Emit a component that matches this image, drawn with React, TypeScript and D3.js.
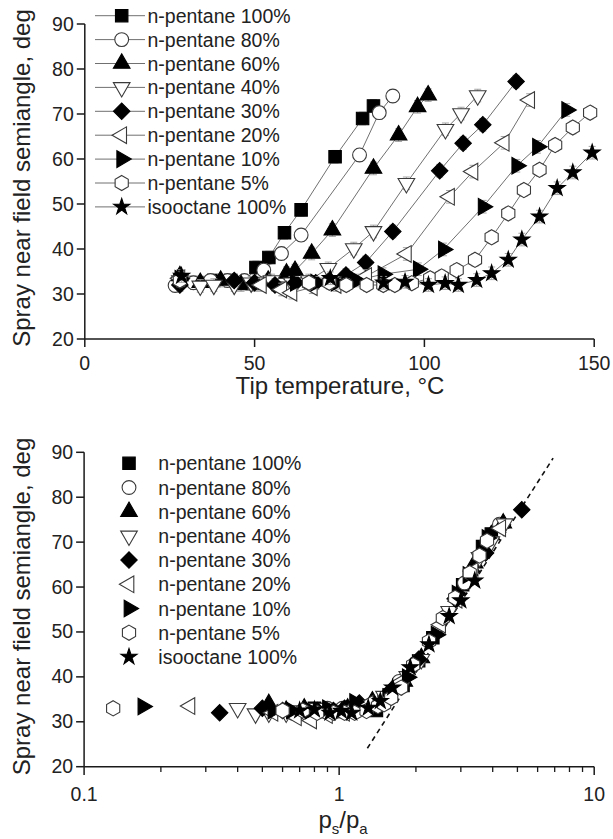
import React from "react";
import * as d3 from "d3";

// legend labels, in drawing order
const seriesNames = [
  "n-pentane 100%",
  "n-pentane 80%",
  "n-pentane 60%",
  "n-pentane 40%",
  "n-pentane 30%",
  "n-pentane 20%",
  "n-pentane 10%",
  "n-pentane 5%",
  "isooctane 100%",
];

// tip temperature (°C), spray semiangle (deg) and ps/pa for each mixture
const tempP100 = [28, 33, 38, 43, 47, 50.4, 54.2, 58.8, 63.7, 73.7, 81.8, 85.0];
const angleP100 = [33, 32.5, 33, 33, 32.5, 35.9, 38.1, 43.6, 48.7, 60.5, 69.0, 71.8];
const ratioP100 = [0.8, 0.93, 1.08, 1.25, 1.4, 1.58, 1.78, 2.05, 2.33, 3.05, 3.65, 3.95];

const tempP80 = [26.6, 32, 37, 42, 47, 52.7, 57.9, 63.7, 80.9, 86.7, 90.7];
const angleP80 = [31.9, 32.5, 33, 33, 33, 35.3, 39.0, 43.1, 60.9, 70.3, 74.0];
const ratioP80 = [0.66, 0.77, 0.9, 1.03, 1.18, 1.5, 1.72, 2.0, 3.1, 3.8, 4.25];

const tempP60 = [28, 34, 40, 46, 50, 54, 59.4, 61.9, 66.8, 72.9, 85.0, 92.4, 98.0, 101.1];
const angleP60 = [34, 32.5, 33, 32, 32, 33, 34.6, 35.2, 39.0, 44.2, 57.9, 65.3, 71.6, 74.2];
const ratioP60 = [0.53, 0.62, 0.73, 0.85, 0.95, 1.08, 1.35, 1.5, 1.8, 2.1, 2.88, 3.4, 3.95, 4.4];

const tempP40 = [28, 34, 38, 44, 49, 55, 61, 66, 71.7, 79.2, 85.0, 94.7, 106.2, 110.8, 115.7];
const angleP40 = [33, 31.8, 32, 32, 32.5, 33, 32.5, 33, 35.7, 40.1, 43.9, 54.6, 66.6, 70.1, 74.1];
const ratioP40 = [0.4, 0.47, 0.53, 0.62, 0.7, 0.82, 0.96, 1.1, 1.5, 1.85, 2.1, 2.7, 3.55, 3.95, 4.45];

const tempP30 = [28, 44, 50, 56, 62, 68, 72, 76.9, 82.7, 90.7, 104.5, 111.4, 117.2, 127.0];
const angleP30 = [32, 33, 32.5, 32, 32.5, 32.5, 33, 34.2, 37.0, 43.9, 57.4, 63.5, 67.6, 77.2];
const ratioP30 = [0.34, 0.5, 0.6, 0.7, 0.82, 0.95, 1.05, 1.2, 1.6, 2.05, 2.85, 3.3, 3.75, 5.2];

const tempP20 = [28, 52, 58, 61, 67, 74, 83, 94.7, 107.4, 114.3, 123.5, 131];
const angleP20 = [33.5, 32, 31, 30.3, 31.5, 32, 34.0, 38.9, 51.6, 57.2, 63.6, 73.1];
const ratioP20 = [0.26, 0.55, 0.68, 0.78, 0.9, 1.05, 1.3, 1.75, 2.5, 2.9, 3.35, 4.3];

const tempP10 = [28, 62, 68, 74, 80, 87.8, 98.2, 105.6, 117.3, 127.2, 133.3, 141.9];
const angleP10 = [33.4, 32.5, 32.5, 32.5, 33, 34.4, 35.5, 39.9, 49.4, 58.5, 62.7, 70.9];
const ratioP10 = [0.17, 0.55, 0.65, 0.77, 0.9, 1.15, 1.55, 1.85, 2.4, 2.9, 3.2, 3.8];

const tempP5 = [28, 66, 72, 77, 83, 87.9, 91.3, 96.3, 101.7, 105.1, 109.5, 114.9, 119.8, 124.7, 129.3, 133.9, 138.5, 143.7, 148.8];
const angleP5 = [33, 32.5, 32.5, 32, 32, 32, 32, 32.4, 33.5, 33.9, 35.3, 37.6, 42.6, 47.9, 53.1, 57.6, 63.1, 67.0, 70.3];
const ratioP5 = [0.13, 0.6, 0.72, 0.82, 0.95, 1.05, 1.15, 1.28, 1.42, 1.5, 1.6, 1.75, 1.95, 2.25, 2.55, 2.85, 3.25, 3.55, 3.8];

const tempIso = [28.5, 72.3, 88, 94.3, 101.2, 106.1, 110, 115.4, 119.8, 124.7, 128.7, 133.9, 139.1, 143.7, 149.4];
const angleIso = [34, 33.5, 32.5, 32.7, 32, 32.4, 32, 33.1, 34.6, 37.6, 42.1, 47.2, 53.5, 57, 61.4];
// null = below 0.1, outside the lower panel
const ratioIso = [null, null, 0.7, 0.8, 0.92, 1.02, 1.12, 1.3, 1.45, 1.62, 1.9, 2.25, 2.7, 3.0, 3.4];

const temps = [tempP100, tempP80, tempP60, tempP40, tempP30, tempP20, tempP10, tempP5, tempIso];
const angles = [angleP100, angleP80, angleP60, angleP40, angleP30, angleP20, angleP10, angleP5, angleIso];
const ratios = [ratioP100, ratioP80, ratioP60, ratioP40, ratioP30, ratioP20, ratioP10, ratioP5, ratioIso];

// dashed guide line in the lower panel
const dashRatio = [1.29, 6.9];
const dashAngle = [24.1, 88.7];

const errDeg = 1.4;

const tempTicks = [0, 50, 100, 150];
const angleTicks = [20, 30, 40, 50, 60, 70, 80, 90];
const ratioMajor = [0.1, 1, 10];
const ratioMinor = [0.2, 0.3, 0.4, 0.5, 0.6, 0.7, 0.8, 0.9, 2, 3, 4, 5, 6, 7, 8, 9];

const FONT = "'Liberation Sans', Arial, Helvetica, sans-serif";
const AXIS = "#1a1a1a";

const hexagon = {
  draw(ctx: any, size: number) {
    const r = Math.sqrt(size / (1.5 * Math.sqrt(3)));
    for (let k = 0; k < 6; k++) {
      const a = -Math.PI / 2 + (k * Math.PI) / 3;
      const x = r * Math.cos(a), y = r * Math.sin(a);
      if (k === 0) ctx.moveTo(x, y);
      else ctx.lineTo(x, y);
    }
    ctx.closePath();
  },
};

// shape, size, rotation, filled
const markers: [any, number, number, boolean][] = [
  [d3.symbolSquare, 155, 0, true],
  [d3.symbolCircle, 150, 0, false],
  [d3.symbolTriangle, 120, 0, true],
  [d3.symbolTriangle, 120, 180, false],
  [d3.symbolSquare, 135, 45, true],
  [d3.symbolTriangle, 120, -90, false],
  [d3.symbolTriangle, 120, 90, true],
  [hexagon, 150, 0, false],
  [d3.symbolStar, 80, 0, true],
];

const Marker = ({ i, x, y }: { i: number; x: number; y: number }) => {
  const [type, size, rot, filled] = markers[i];
  const d = d3.symbol().type(type).size(size)() as string;
  return (
    <path
      d={d}
      transform={`translate(${x},${y}) rotate(${rot})`}
      fill={filled ? "#000" : "#fff"}
      stroke={filled ? "#000" : "#3a3a3a"}
      strokeWidth={1.1}
    />
  );
};

const W = 613;
const H = 839;

const App = () => {
  // upper panel
  const xT = d3.scaleLinear().domain([0, 150]).range([84.8, 594.2]);
  const yT = d3.scaleLinear().domain([20, 90]).range([339, 24]);
  // lower panel
  const xB = d3.scaleLog().domain([0.1, 10]).range([84.1, 594.2]);
  const yB = d3.scaleLinear().domain([20, 90]).range([766.7, 452.3]);

  const lineT = d3
    .line<[number, number]>()
    .x((d) => xT(d[0]))
    .y((d) => yT(d[1]));

  const dashPath = d3
    .line<number>()
    .x((d, i) => xB(dashRatio[i]))
    .y((d, i) => yB(dashAngle[i]))(dashRatio);

  const yAxis = (y: any, x0: number, key: string) => (
    <g key={key}>
      <line x1={x0} x2={x0} y1={y(20)} y2={y(90)} stroke={AXIS} strokeWidth={1.5} />
      {angleTicks.map((t) => (
        <g key={t}>
          <line x1={x0 - 8} x2={x0} y1={y(t)} y2={y(t)} stroke={AXIS} strokeWidth={1.5} />
          <text x={x0 - 11} y={y(t) + 6.5} textAnchor="end" fontSize={19.5} fontFamily={FONT} fill="#222">
            {t}
          </text>
        </g>
      ))}
    </g>
  );

  return (
    <div style={{ position: "absolute", left: 0, top: 0 }}>
      <svg width={W} height={H} style={{ display: "block", background: "#fff" }}>
        {/* ---------- upper panel ---------- */}
        {yAxis(yT, 84.8, "yT")}
        <line x1={xT(0)} x2={xT(150)} y1={339} y2={339} stroke={AXIS} strokeWidth={1.5} />
        {tempTicks.map((t) => (
          <g key={t}>
            <line x1={xT(t)} x2={xT(t)} y1={339} y2={347} stroke={AXIS} strokeWidth={1.5} />
            <text x={xT(t)} y={370} textAnchor="middle" fontSize={19.5} fontFamily={FONT} fill="#222">
              {t}
            </text>
          </g>
        ))}
        <text x={340} y={394} textAnchor="middle" fontSize={24} fontFamily={FONT} fill="#222">
          Tip temperature, °C
        </text>
        <text
          transform="translate(29.5,178) rotate(-90)"
          textAnchor="middle"
          fontSize={24}
          fontFamily={FONT}
          fill="#222"
        >
          Spray near field semiangle, deg
        </text>

        {temps.map((ts, s) => (
          <path
            key={"l" + s}
            d={lineT(ts.map((t, i) => [t, angles[s][i]]) as [number, number][]) as string}
            fill="none"
            stroke="#707070"
            strokeWidth={1}
          />
        ))}
        {temps.map((ts, s) => (
          <g key={"m" + s}>
            {ts.map((t, i) => {
              const x = xT(t);
              const a = angles[s][i];
              return (
                <g key={i}>
                  <g stroke="#9a9a9a" strokeWidth={0.9}>
                    <line x1={x} x2={x} y1={yT(a - errDeg)} y2={yT(a + errDeg)} />
                    <line x1={x - 3.5} x2={x + 3.5} y1={yT(a + errDeg)} y2={yT(a + errDeg)} />
                    <line x1={x - 3.5} x2={x + 3.5} y1={yT(a - errDeg)} y2={yT(a - errDeg)} />
                  </g>
                  <Marker i={s} x={x} y={yT(a)} />
                </g>
              );
            })}
          </g>
        ))}

        {/* upper legend */}
        {seriesNames.map((name, s) => {
          const cy = 15.7 + s * 23.9;
          return (
            <g key={"lt" + s}>
              <line x1={95} x2={145} y1={cy} y2={cy} stroke="#707070" strokeWidth={1} />
              <Marker i={s} x={121.7} y={cy} />
              <text x={147.5} y={cy + 7} fontSize={19.5} fontFamily={FONT} fill="#222">
                {name}
              </text>
            </g>
          );
        })}

        {/* ---------- lower panel ---------- */}
        {yAxis(yB, 84.1, "yB")}
        <line x1={xB(0.1)} x2={xB(10)} y1={766.7} y2={766.7} stroke={AXIS} strokeWidth={1.5} />
        {ratioMinor.map((t) => (
          <line key={t} x1={xB(t)} x2={xB(t)} y1={766.7} y2={772} stroke={AXIS} strokeWidth={1.3} />
        ))}
        {ratioMajor.map((t) => (
          <g key={t}>
            <line x1={xB(t)} x2={xB(t)} y1={766.7} y2={775} stroke={AXIS} strokeWidth={1.5} />
            <text x={xB(t)} y={800.5} textAnchor="middle" fontSize={19.5} fontFamily={FONT} fill="#222">
              {String(t)}
            </text>
          </g>
        ))}
        <text x={343} y={827.5} textAnchor="middle" fontSize={24} fontFamily={FONT} fill="#222">
          p<tspan fontSize={15} dy={6}>s</tspan>
          <tspan dy={-6}>/p</tspan>
          <tspan fontSize={15} dy={6}>a</tspan>
        </text>
        <text
          transform="translate(29.5,606.5) rotate(-90)"
          textAnchor="middle"
          fontSize={24}
          fontFamily={FONT}
          fill="#222"
        >
          Spray near field semiangle, deg
        </text>

        <path d={dashPath as string} fill="none" stroke="#111" strokeWidth={1.6} strokeDasharray="5,4" />

        {ratios.map((rs, s) => (
          <g key={"b" + s}>
            {rs.map((r, i) =>
              r == null ? null : <Marker key={i} i={s} x={xB(r)} y={yB(angles[s][i])} />
            )}
          </g>
        ))}

        {/* lower legend */}
        {seriesNames.map((name, s) => {
          const cy = 463.3 + s * 24.2;
          return (
            <g key={"lb" + s}>
              <Marker i={s} x={129} y={cy} />
              <text x={158.3} y={cy + 7} fontSize={19.5} fontFamily={FONT} fill="#222">
                {name}
              </text>
            </g>
          );
        })}
      </svg>
    </div>
  );
};

export default App;
